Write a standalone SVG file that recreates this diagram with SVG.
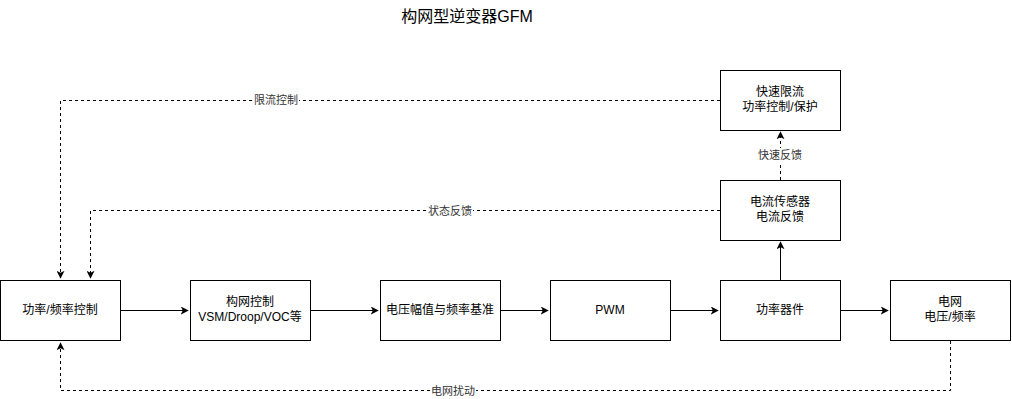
<svg xmlns="http://www.w3.org/2000/svg" width="1012" height="399" viewBox="0 0 1012 399">
<defs>
<marker id="arr" viewBox="0 0 10 10" refX="9" refY="5" markerWidth="8" markerHeight="8" markerUnits="userSpaceOnUse" orient="auto">
<path d="M0,0 L10,5 L0,10 L2.5,5 Z" fill="#000"/>
</marker>
<style>
.box{fill:#fff;stroke:#000;stroke-width:1}
.t{font-family:"Liberation Sans","Noto Sans CJK SC",sans-serif;font-size:12px;fill:#000;text-anchor:middle}
.el{font-family:"Liberation Sans","Noto Sans CJK SC",sans-serif;font-size:11px;fill:#333;text-anchor:middle}
.ln{fill:none;stroke:#000;stroke-width:1}
.dl{fill:none;stroke:#000;stroke-width:1;stroke-dasharray:3 3}
.bg{fill:#fff}
</style>
</defs>
<rect width="1012" height="399" fill="#fff"/>
<text x="467" y="22" class="t" style="font-size:16px">构网型逆变器GFM</text>
<g id="connectors">
<path class="ln" d="M120,310.5 L188,310.5" marker-end="url(#arr)"/>
<path class="ln" d="M310,310.5 L378,310.5" marker-end="url(#arr)"/>
<path class="ln" d="M500,310.5 L548,310.5" marker-end="url(#arr)"/>
<path class="ln" d="M670,310.5 L718,310.5" marker-end="url(#arr)"/>
<path class="ln" d="M840,310.5 L888,310.5" marker-end="url(#arr)"/>
<path class="ln" d="M780.5,280 L780.5,242" marker-end="url(#arr)"/>
<path class="dl" d="M780.5,180 L780.5,132" marker-end="url(#arr)"/>
<rect class="bg" x="755" y="148" width="50" height="14"/>
<text class="el" x="780" y="159">快速反馈</text>
<path class="dl" d="M720,100.5 L60.5,100.5 L60.5,278" marker-end="url(#arr)"/>
<rect class="bg" x="253" y="93" width="46" height="14"/>
<text class="el" x="276" y="104">限流控制</text>
<path class="dl" d="M720,210.5 L90.5,210.5 L90.5,278" marker-end="url(#arr)"/>
<rect class="bg" x="427" y="203" width="46" height="14"/>
<text class="el" x="450" y="215">状态反馈</text>
<path class="dl" d="M950.5,341 L950.5,390.5 L60.5,390.5 L60.5,343" marker-end="url(#arr)"/>
<rect class="bg" x="430" y="383" width="46" height="14"/>
<text class="el" x="453" y="395">电网扰动</text>
</g>
<g id="n1"><rect class="box" x="0.5" y="280.5" width="120" height="60"/><text class="t" x="60" y="314">功率/频率控制</text></g>
<g id="n2"><rect class="box" x="190.5" y="280.5" width="120" height="60"/><text class="t" x="250" y="306">构网控制</text><text class="t" x="250" y="321">VSM/Droop/VOC等</text></g>
<g id="n3"><rect class="box" x="380.5" y="280.5" width="120" height="60"/><text class="t" x="440" y="314">电压幅值与频率基准</text></g>
<g id="n4"><rect class="box" x="550.5" y="280.5" width="120" height="60"/><text class="t" x="610" y="314">PWM</text></g>
<g id="n5"><rect class="box" x="720.5" y="280.5" width="120" height="60"/><text class="t" x="780" y="314">功率器件</text></g>
<g id="n6"><rect class="box" x="890.5" y="280.5" width="120" height="60"/><text class="t" x="950" y="306">电网</text><text class="t" x="950" y="321">电压/频率</text></g>
<g id="n7"><rect class="box" x="720.5" y="180.5" width="120" height="60"/><text class="t" x="780" y="206">电流传感器</text><text class="t" x="780" y="221">电流反馈</text></g>
<g id="n8"><rect class="box" x="720.5" y="70.5" width="120" height="60"/><text class="t" x="780" y="96">快速限流</text><text class="t" x="780" y="111">功率控制/保护</text></g>
</svg>
